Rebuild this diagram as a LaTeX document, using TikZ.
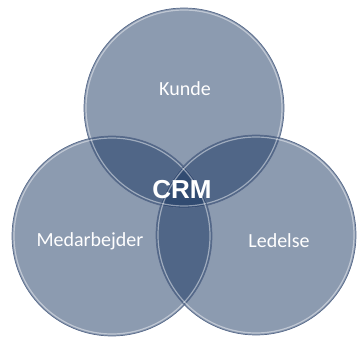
\documentclass[tikz,border=0pt]{standalone}
\usepackage{fontspec}
\setmainfont{Carlito}
\newfontfamily\crmfont{Liberation Sans}
\usetikzlibrary{calc}
\usepackage{xcolor}
\definecolor{ringFill}{RGB}{15, 45, 90}
\definecolor{ringEdge}{RGB}{88, 106, 138}

\begin{document}
\begin{tikzpicture}[x=1pt, y=-1pt,
    lbl/.style={text=white, font=\fontsize{20}{24}\selectfont}]
  \useasboundingbox (0,0) rectangle (362,345);
  % Three translucent discs, overlaps get darker
  \def\rr{100}
  \coordinate (cK) at (184,108);
  \coordinate (cM) at (112,236);
  \coordinate (cL) at (256,235);

  \foreach \c in {cK,cM,cL}
    \fill[ringFill, fill opacity=0.48] (\c) circle (\rr);

  % Rims: dark edge with a light inner line
  \foreach \c in {cK,cM,cL} {
    \draw[ringEdge, line width=0.7pt] (\c) circle (\rr);
    \draw[white, opacity=0.45, line width=1.2pt] (\c) circle (\rr-2);
  }

  % Labels
  \node[lbl] (kunde) at (185,89) {Kunde};
  \node[lbl] (medarb) at (90,241) {Medarbejder};
  \node[lbl] (ledelse) at (279,241) {Ledelse};
  \node[text=white, font=\crmfont\bfseries\fontsize{26}{30}\selectfont]
    (crm) at (182,190) {CRM};
\end{tikzpicture}
\end{document}
